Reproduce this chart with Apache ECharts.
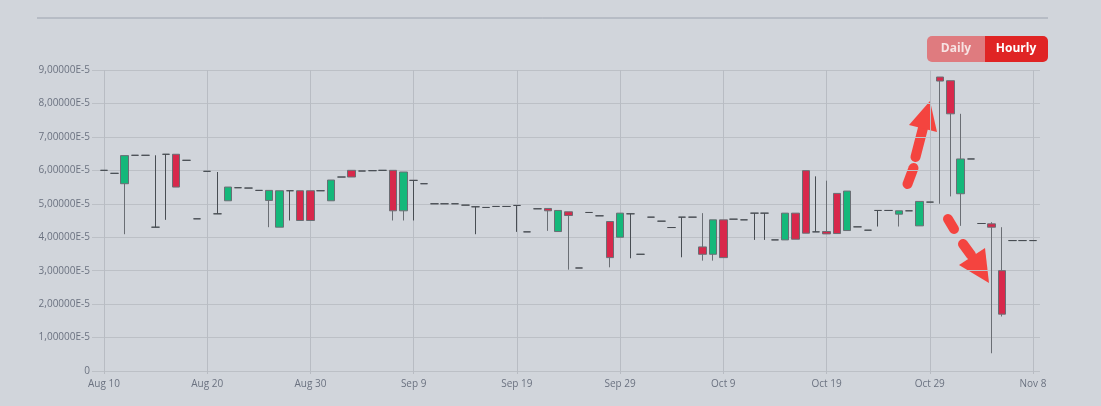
<!DOCTYPE html>
<html>
<head>
<meta charset="utf-8">
<script src="https://cdn.jsdelivr.net/npm/echarts@6/dist/echarts.min.js"></script>
<style>
html,body{margin:0;padding:0;background:#d1d5db;}
#c{width:1101px;height:406px;}
</style>
</head>
<body>
<div id="c"></div>
<script>
// Day labels, Aug 10 .. Nov 8 (one candle per day)
const startDate = new Date(2023, 7, 10);
const monthNames = ['Jan','Feb','Mar','Apr','May','Jun','Jul','Aug','Sep','Oct','Nov','Dec'];
const categories = [];
for (let i = 0; i < 91; i++) {
  const d = new Date(startDate.getFullYear(), startDate.getMonth(), startDate.getDate() + i);
  categories.push(monthNames[d.getMonth()] + ' ' + d.getDate());
}
// Values in units of 1E-5
const openVals  = [6.00,5.91,5.60,6.45,6.45,4.30,6.48,6.48,6.30,4.55,5.97,4.70,5.09,5.48,5.47,5.40,5.10,4.30,5.39,5.39,5.39,5.39,5.09,5.80,6.00,5.98,5.99,6.00,6.00,4.79,5.70,5.60,5.00,5.00,5.00,4.96,4.91,4.89,4.92,4.92,4.95,4.16,4.85,4.86,4.17,4.76,3.08,4.74,4.64,4.47,4.00,4.70,3.49,4.60,4.48,4.29,4.60,4.60,3.71,3.49,4.52,4.54,4.52,4.72,4.72,3.92,3.92,4.72,5.99,4.16,4.17,5.31,4.20,4.31,4.21,4.80,4.80,4.69,4.79,4.34,5.05,8.79,8.68,5.30,6.34,4.41,4.40,3.00,3.90,3.90,3.90];
const closeVals = [6.00,5.91,6.44,6.45,6.45,4.30,6.48,5.50,6.30,4.55,5.97,4.70,5.50,5.48,5.47,5.40,5.40,5.39,5.39,4.50,4.50,5.39,5.71,5.80,5.80,5.98,5.99,6.00,4.79,5.95,5.70,5.60,5.00,5.00,5.00,4.96,4.91,4.89,4.92,4.92,4.95,4.16,4.85,4.79,4.80,4.65,3.08,4.74,4.64,3.39,4.72,4.70,3.49,4.60,4.48,4.29,4.60,4.60,3.49,4.52,3.39,4.54,4.52,4.72,4.72,3.92,4.72,3.94,4.12,4.16,4.10,4.11,5.38,4.31,4.21,4.80,4.80,4.79,4.79,5.07,5.05,8.67,7.69,6.34,6.34,4.41,4.30,1.70,3.90,3.90,3.90];
const lowVals   = [6.00,5.91,4.09,6.45,6.45,4.30,4.52,5.50,6.30,4.55,5.97,4.70,5.09,5.48,5.47,5.40,4.30,4.30,4.50,4.50,4.50,5.39,5.09,5.80,5.80,5.98,5.99,6.00,4.50,4.50,4.50,5.60,5.00,5.00,5.00,4.96,4.09,4.89,4.92,4.92,4.16,4.16,4.85,4.19,4.17,3.03,3.08,4.74,4.64,3.10,4.00,3.37,3.49,4.60,4.48,4.29,3.40,4.60,3.30,3.30,3.39,4.54,4.52,3.92,3.92,3.92,3.92,3.94,4.12,4.16,4.10,4.11,4.20,4.31,4.21,4.32,4.80,4.32,4.79,4.34,5.05,5.00,5.22,4.34,6.34,4.41,0.53,1.63,3.90,3.90,3.90];
const highVals  = [6.00,5.91,6.44,6.45,6.45,6.45,6.48,6.48,6.30,4.55,5.97,5.95,5.50,5.48,5.47,5.40,5.40,5.39,5.39,5.39,5.39,5.39,5.71,5.80,6.00,5.98,5.99,6.00,6.00,5.95,5.70,5.60,5.00,5.00,5.00,4.96,4.91,4.89,4.92,4.92,4.95,4.16,4.85,4.86,4.80,4.76,3.08,4.74,4.64,4.47,4.72,4.70,3.49,4.60,4.48,4.29,4.60,4.60,4.72,4.52,4.52,4.54,4.52,4.72,4.72,3.92,4.72,4.72,5.99,5.82,5.69,5.31,5.38,4.31,4.21,4.80,4.80,4.79,4.79,5.07,5.05,8.79,8.68,7.69,6.34,4.41,4.45,4.30,3.90,3.90,3.90];
const xTickIdx = [0,10,20,30,40,50,60,70,80,90];

const data = categories.map((c, i) => [i, openVals[i], closeVals[i], lowVals[i], highVals[i]]);

const chart = echarts.init(document.getElementById('c'), null, {renderer: 'canvas'});
const arrowColor = '#f4443f';
const seg = (x1, y1, x2, y2) => ({type: 'line', shape: {x1, y1, x2, y2},
  style: {stroke: arrowColor, lineWidth: 10, lineCap: 'round'}});
chart.setOption({
  backgroundColor: '#d1d5db',
  animation: false,
  textStyle: {fontFamily: 'Open Sans'},
  grid: {left: 92, right: 61, top: 70, bottom: 35},
  xAxis: {
    type: 'value',
    min: -1.16, max: 90.68,
    axisLine: {show: false},
    axisTick: {show: true, customValues: xTickIdx, length: 3, lineStyle: {color: '#b8bcc3'}},
    axisLabel: {customValues: xTickIdx, color: '#6b7280', fontSize: 10, margin: 8,
      formatter: v => categories[Math.round(v)] || ''},
    splitLine: {show: true, lineStyle: {color: '#b8bcc3', width: 1}}
  },
  yAxis: {
    type: 'value',
    min: 0, max: 9, interval: 1,
    axisLine: {show: false},
    axisTick: {show: false},
    axisLabel: {color: '#6b7280', fontSize: 10, margin: 2,
      formatter: v => v === 0 ? '0' : v.toFixed(5).replace('.', ',') + 'E-5'},
    splitLine: {lineStyle: {color: '#bcc0c6', width: 1}}
  },
  series: [{
    type: 'candlestick',
    data: data,
    encode: {x: 0, y: [1, 2, 3, 4]},
    barWidth: 8,
    itemStyle: {
      color: '#14b87a',
      color0: '#d8284b',
      borderColor: '#6a6e74',
      borderColor0: '#6a6e74',
      borderColorDoji: '#484d53',
      borderWidth: 1
    }
  }],
  graphic: [
    {type: 'line', shape: {x1: 37, y1: 18, x2: 1048, y2: 18}, style: {stroke: '#9ca3af', lineWidth: 1}, silent: true},
    {type: 'rect', shape: {x: 927, y: 36, width: 62, height: 26, r: [5, 0, 0, 5]}, style: {fill: '#df7b7f'}},
    {type: 'rect', shape: {x: 985, y: 36, width: 63, height: 26, r: [0, 5, 5, 0]}, style: {fill: '#e02424'}},
    {type: 'text', x: 956, y: 49, style: {text: 'Daily', fill: '#f7e3e3', font: 'bold 12px "Open Sans"', align: 'center', verticalAlign: 'middle'}},
    {type: 'text', x: 1016, y: 49, style: {text: 'Hourly', fill: '#ffffff', font: 'bold 12px "Open Sans"', align: 'center', verticalAlign: 'middle'}},
    seg(907.5, 184, 913.5, 168),
    seg(915.5, 157, 923, 128),
    {type: 'polygon', shape: {points: [[909, 125], [930, 101], [937, 132]]}, style: {fill: arrowColor}},
    seg(948, 219, 954, 229),
    seg(963, 244, 971, 255),
    {type: 'polygon', shape: {points: [[959, 265], [989, 283], [985, 248]]}, style: {fill: arrowColor}}
  ]
});
</script>
</body>
</html>
